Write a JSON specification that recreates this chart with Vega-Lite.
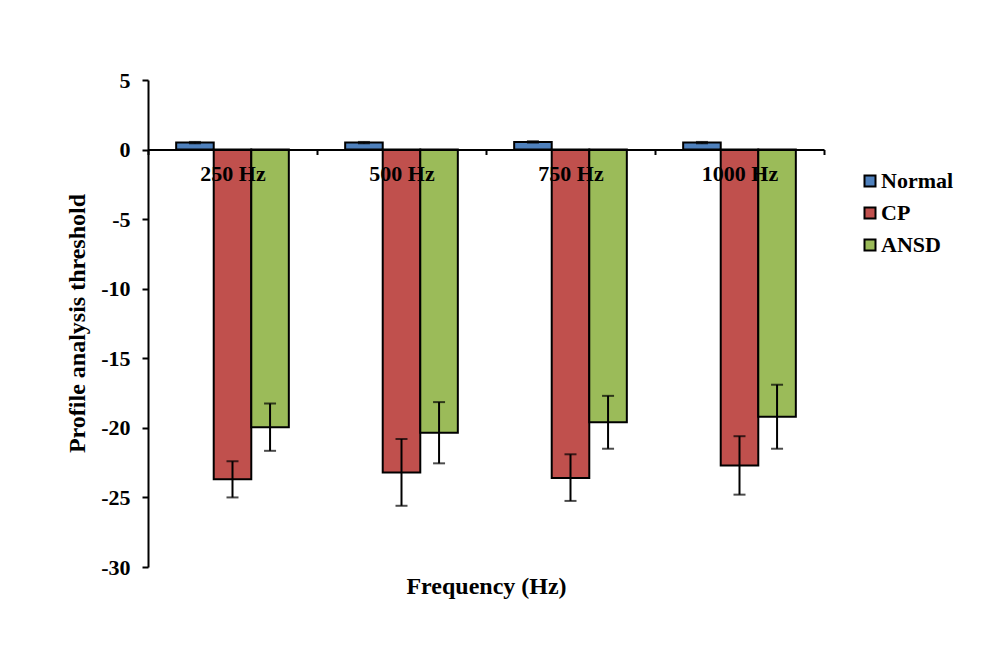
{
  "$schema": "https://vega.github.io/schema/vega-lite/v6.json",
  "autosize": "none",
  "padding": {"left": 148, "top": 80, "right": 171, "bottom": 78},
  "width": 676,
  "height": 487,
  "background": "white",
  "config": {
    "view": {"stroke": null},
    "font": "Liberation Serif"
  },
  "data": {
    "values": [
      {"freq": "250 Hz", "group": "Normal", "value": 0.5, "lo": 0.45, "hi": 0.55},
      {"freq": "250 Hz", "group": "CP", "value": -23.7, "lo": -25.0, "hi": -22.4},
      {"freq": "250 Hz", "group": "ANSD", "value": -19.95, "lo": -21.65, "hi": -18.25},
      {"freq": "500 Hz", "group": "Normal", "value": 0.5, "lo": 0.45, "hi": 0.55},
      {"freq": "500 Hz", "group": "CP", "value": -23.2, "lo": -25.6, "hi": -20.8},
      {"freq": "500 Hz", "group": "ANSD", "value": -20.35, "lo": -22.55, "hi": -18.15},
      {"freq": "750 Hz", "group": "Normal", "value": 0.55, "lo": 0.5, "hi": 0.6},
      {"freq": "750 Hz", "group": "CP", "value": -23.6, "lo": -25.25, "hi": -21.9},
      {"freq": "750 Hz", "group": "ANSD", "value": -19.6, "lo": -21.5, "hi": -17.7},
      {"freq": "1000 Hz", "group": "Normal", "value": 0.5, "lo": 0.45, "hi": 0.55},
      {"freq": "1000 Hz", "group": "CP", "value": -22.7, "lo": -24.8, "hi": -20.6},
      {"freq": "1000 Hz", "group": "ANSD", "value": -19.2, "lo": -21.5, "hi": -16.9}
    ]
  },
  "encoding": {
    "x": {
      "field": "freq",
      "type": "nominal",
      "sort": ["250 Hz", "500 Hz", "750 Hz", "1000 Hz"],
      "scale": {"paddingInner": 0, "paddingOuter": 0},
      "axis": {
        "offset": -417.5,
        "zindex": 1,
        "title": "Frequency (Hz)",
        "titleFont": "Liberation Serif",
        "titleFontSize": 24,
        "titleFontWeight": "bold",
        "titleColor": "black",
        "titleY": 437,
        "titleBaseline": "middle",
        "labelAngle": 0,
        "labelFont": "Liberation Serif",
        "labelFontSize": 22,
        "labelFontWeight": "bold",
        "labelColor": "black",
        "labelBaseline": "middle",
        "labelPadding": 19,
        "domainColor": "black",
        "domainWidth": 2,
        "tickColor": "black",
        "tickWidth": 2,
        "tickSize": 5,
        "tickBand": "extent"
      }
    },
    "xOffset": {
      "field": "group",
      "type": "nominal",
      "sort": ["Normal", "CP", "ANSD"],
      "scale": {"paddingInner": 0, "paddingOuter": 0.75}
    }
  },
  "layer": [
    {
      "mark": {"type": "bar", "stroke": "black", "strokeWidth": 2},
      "encoding": {
        "y": {
          "field": "value",
          "type": "quantitative",
          "scale": {"domain": [-30, 5], "nice": false, "zero": true},
          "axis": {
            "values": [-30, -25, -20, -15, -10, -5, 0, 5],
            "labelExpr": "replace(datum.label, '\u2212', '-')",
            "grid": false,
            "title": "Profile analysis threshold",
            "titleFont": "Liberation Serif",
            "titleFontSize": 24,
            "titleFontWeight": "bold",
            "titleColor": "black",
            "titleX": -71,
            "titleY": 243,
            "titleAngle": 270,
            "titleAlign": "center",
            "titleBaseline": "middle",
            "labelFont": "Liberation Serif",
            "labelFontSize": 22,
            "labelFontWeight": "bold",
            "labelColor": "black",
            "labelPadding": 12,
            "domainColor": "black",
            "domainWidth": 2,
            "tickColor": "black",
            "tickWidth": 2,
            "tickSize": 6
          }
        },
        "color": {
          "field": "group",
          "type": "nominal",
          "sort": ["Normal", "CP", "ANSD"],
          "scale": {"domain": ["Normal", "CP", "ANSD"], "range": ["#4F81BD", "#C0504D", "#9BBB59"]},
          "legend": {
            "title": null,
            "orient": "none",
            "legendX": 711,
            "legendY": 90,
            "symbolType": "square",
            "symbolSize": 121,
            "symbolStrokeColor": "black",
            "symbolStrokeWidth": 2,
            "labelFont": "Liberation Serif",
            "labelFontSize": 22,
            "labelFontWeight": "bold",
            "labelColor": "black",
            "labelOffset": 0,
            "rowPadding": 10
          }
        }
      }
    },
    {
      "mark": {"type": "rule", "color": "black", "strokeWidth": 2},
      "encoding": {
        "y": {"field": "lo", "type": "quantitative"},
        "y2": {"field": "hi"}
      }
    },
    {
      "mark": {"type": "tick", "color": "black", "thickness": 2, "size": 12, "orient": "horizontal"},
      "encoding": {
        "y": {"field": "lo", "type": "quantitative"}
      }
    },
    {
      "mark": {"type": "tick", "color": "black", "thickness": 2, "size": 12, "orient": "horizontal"},
      "encoding": {
        "y": {"field": "hi", "type": "quantitative"}
      }
    }
  ]
}
